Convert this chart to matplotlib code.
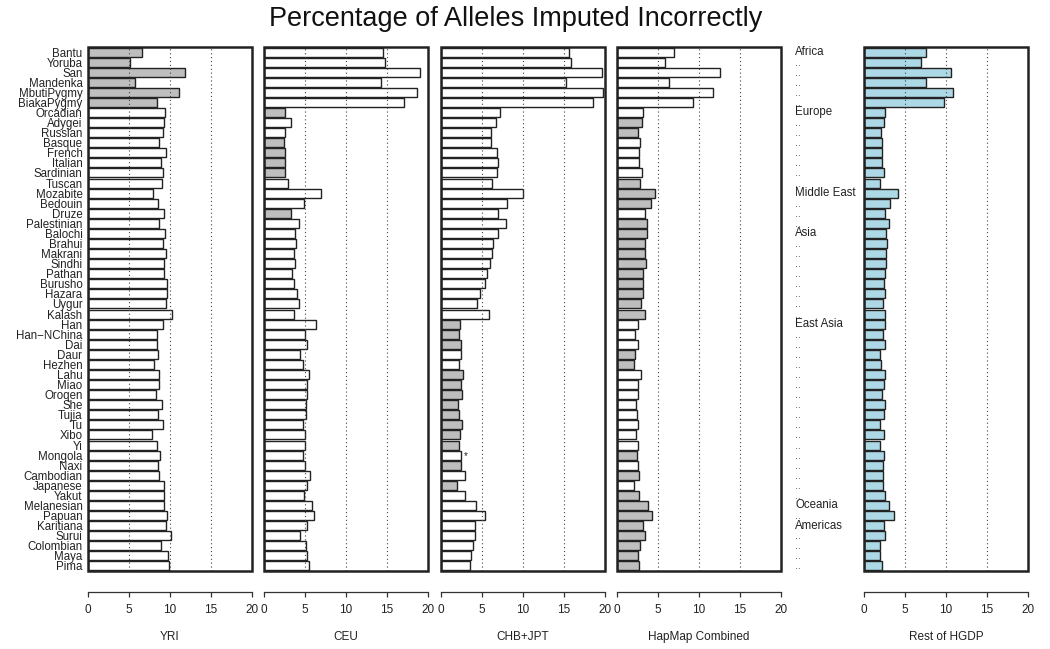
#!/usr/bin/env python3
"""
Percentage of alleles imputed incorrectly, per HGDP population,
for each reference panel (five side-by-side bar panels).
"""

import matplotlib

matplotlib.use("Agg")
import matplotlib.pyplot as plt
import numpy as np
from matplotlib.patches import Rectangle
from matplotlib.transforms import blended_transform_factory

plt.rcParams["font.family"] = ["Liberation Sans", "DejaVu Sans"]

# Populations, top to bottom
populations = [
    "Bantu", "Yoruba", "San", "Mandenka", "MbutiPygmy", "BiakaPygmy",
    "Orcadian", "Adygei", "Russian", "Basque", "French", "Italian",
    "Sardinian", "Tuscan", "Mozabite", "Bedouin", "Druze", "Palestinian",
    "Balochi", "Brahui", "Makrani", "Sindhi", "Pathan", "Burusho",
    "Hazara", "Uygur", "Kalash", "Han", "Han\u2212NChina", "Dai", "Daur",
    "Hezhen", "Lahu", "Miao", "Oroqen", "She", "Tujia", "Tu", "Xibo", "Yi",
    "Mongola", "Naxi", "Cambodian", "Japanese", "Yakut", "Melanesian",
    "Papuan", "Karitiana", "Surui", "Colombian", "Maya", "Pima",
]

# Region label and the number of populations in it
regions = ["Africa", "Europe", "Middle East", "Asia", "East Asia", "Oceania", "Americas"]
region_sizes = [6, 8, 4, 9, 18, 2, 5]

# Error rates (%) per panel
yri = [
    6.6, 5.1, 11.8, 5.7, 11.1, 8.4,
    9.4, 9.3, 9.2, 8.7, 9.5, 8.9, 9.1, 9.0,
    7.9, 8.5, 9.3, 8.6,
    9.4, 9.1, 9.5, 9.3, 9.3, 9.6, 9.6, 9.5, 10.2,
    9.2, 8.4, 8.4, 8.5, 8.1, 8.6, 8.7, 8.3, 9.0, 8.5, 9.2, 7.8, 8.4,
    8.8, 8.5, 8.7, 9.3, 9.3,
    9.3, 9.6,
    9.5, 10.1, 8.9, 9.7, 9.9,
]
ceu = [
    14.5, 14.8, 19.0, 14.3, 18.6, 17.1,
    2.6, 3.3, 2.5, 2.4, 2.5, 2.6, 2.6, 2.9,
    6.9, 4.9, 3.3, 4.3,
    3.8, 3.9, 3.6, 3.8, 3.4, 3.7, 4.0, 4.3, 3.6,
    6.3, 5.0, 5.2, 4.4, 4.8, 5.5, 5.3, 5.2, 5.1, 5.1, 4.8, 5.0, 5.0,
    4.8, 5.0, 5.6, 5.3, 4.9,
    5.9, 6.1,
    5.3, 4.4, 5.1, 5.2, 5.5,
]
chb_jpt = [
    15.6, 15.8, 19.6, 15.3, 19.7, 18.5,
    7.2, 6.7, 6.1, 6.1, 6.8, 7.0, 6.8, 6.2,
    10.0, 8.1, 7.0, 7.9,
    7.0, 6.3, 6.2, 6.0, 5.6, 5.4, 4.8, 4.4, 5.8,
    2.3, 2.2, 2.4, 2.4, 2.2, 2.7, 2.4, 2.5, 2.1, 2.2, 2.6, 2.3, 2.2,
    2.4, 2.4, 2.9, 1.9, 2.9,
    4.3, 5.4,
    4.2, 4.1, 3.9, 3.7, 3.5,
]
hapmap = [
    7.0, 5.8, 12.6, 6.4, 11.7, 9.3,
    3.2, 3.0, 2.5, 2.8, 2.7, 2.7, 3.1, 2.8,
    4.6, 4.2, 3.4, 3.7,
    3.6, 3.4, 3.4, 3.5, 3.2, 3.2, 3.2, 2.9, 3.4,
    2.5, 2.2, 2.6, 2.2, 2.1, 2.9, 2.5, 2.5, 2.3, 2.4, 2.6, 2.3, 2.5,
    2.4, 2.6, 2.7, 2.1, 2.7,
    3.8, 4.3,
    3.2, 3.4, 2.8, 2.6, 2.7,
]
rest_hgdp = [
    7.5, 7.0, 10.6, 7.6, 10.8, 9.7,
    2.5, 2.4, 2.1, 2.2, 2.2, 2.2, 2.4, 1.9,
    4.1, 3.2, 2.5, 3.1,
    2.7, 2.8, 2.7, 2.7, 2.5, 2.4, 2.6, 2.3, 2.5,
    2.5, 2.3, 2.5, 2.0, 2.1, 2.5, 2.4, 2.2, 2.6, 2.4, 2.0, 2.4, 1.9,
    2.4, 2.3, 2.3, 2.3, 2.5,
    3.1, 3.7,
    2.4, 2.5, 2.0, 1.9, 2.2,
]

# Populations whose bar is shaded grey in each panel
yri_grey = ["Bantu", "Yoruba", "San", "Mandenka", "MbutiPygmy", "BiakaPygmy"]
ceu_grey = ["Orcadian", "Basque", "French", "Italian", "Sardinian", "Druze"]
chb_jpt_grey = [
    "Han", "Han\u2212NChina", "Dai", "Lahu", "Miao", "Oroqen", "She", "Tujia",
    "Tu", "Xibo", "Yi", "Naxi", "Japanese",
]
hapmap_grey = [
    "Adygei", "Russian", "Tuscan", "Mozabite", "Bedouin", "Palestinian",
    "Balochi", "Brahui", "Makrani", "Sindhi", "Pathan", "Burusho", "Hazara",
    "Uygur", "Kalash", "Daur", "Hezhen", "Mongola", "Cambodian", "Yakut",
    "Melanesian", "Papuan", "Karitiana", "Surui", "Colombian", "Maya", "Pima",
]
chb_jpt_starred = ["Mongola"]

panel_titles = ["YRI", "CEU", "CHB+JPT", "HapMap Combined", "Rest of HGDP"]
x_ticks = [0, 5, 10, 15, 20]

GREY = "#BEBEBE"
LIGHTBLUE = "#ADD8E6"
EDGE = "#222222"


def draw_panel(ax, values, highlight, fill, title):
    y = np.arange(len(populations))
    colors = [fill if p in highlight else "white" for p in populations]
    ax.barh(y, values, height=0.9, color=colors, edgecolor=EDGE,
            linewidth=1.0, zorder=2)

    ax.set_xlim(0, 20)
    ax.set_ylim(len(populations) - 0.5, -0.5)

    # dotted reference lines on top of the bars
    for x in x_ticks[1:-1]:
        ax.axvline(x, color="#444444", linewidth=0.8,
                   linestyle=(0, (1, 2.5)), zorder=3)

    # closed box around the bars
    ax.add_patch(Rectangle((0, 0), 1, 1, transform=ax.transAxes, fill=False,
                           edgecolor=EDGE, linewidth=1.8, zorder=4,
                           clip_on=False))

    # R-style detached x axis
    for side in ["top", "right", "left"]:
        ax.spines[side].set_visible(False)
    ax.spines["bottom"].set_position(("outward", 15))
    ax.spines["bottom"].set_linewidth(0.9)
    ax.spines["bottom"].set_color("#333333")
    ax.set_xticks(x_ticks)
    ax.tick_params(axis="x", length=3.5, width=0.9, color="#333333",
                   labelsize=8.5, pad=5, labelcolor="#222222")
    ax.set_yticks([])
    ax.set_xlabel(title, fontsize=8.5, labelpad=11, color="#222222")


def main():
    fig = plt.figure(figsize=(10.5, 6.49), dpi=100)
    W, H = 1050.0, 649.0

    lefts = [88, 264, 441, 617, 864]
    width = 164
    top, bottom = 47, 571
    axes = []
    for left in lefts:
        axes.append(fig.add_axes([left / W, 1 - bottom / H, width / W,
                                  (bottom - top) / H]))

    series = [yri, ceu, chb_jpt, hapmap, rest_hgdp]
    greys = [yri_grey, ceu_grey, chb_jpt_grey, hapmap_grey, populations]
    fills = [GREY, GREY, GREY, GREY, LIGHTBLUE]
    for ax, vals, hl, fill, title in zip(axes, series, greys, fills, panel_titles):
        draw_panel(ax, vals, hl, fill, title)

    # population names on the first panel
    y = np.arange(len(populations))
    axes[0].set_yticks(y)
    axes[0].set_yticklabels(populations, fontsize=8.3, color="#222222")
    axes[0].tick_params(axis="y", length=0, pad=4)

    # asterisk next to flagged bars in CHB+JPT
    for name in chb_jpt_starred:
        i = populations.index(name)
        axes[2].text(chb_jpt[i] + 0.35, i + 0.1, "*", fontsize=7,
                     ha="left", va="center", color="#222222", zorder=5)

    # region labels between the HapMap and HGDP panels
    trans = blended_transform_factory(axes[4].transAxes, axes[4].transData)
    row = 0
    for name, n in zip(regions, region_sizes):
        for k in range(n):
            if k == 0:
                axes[4].text(-0.42, row, name, transform=trans, fontsize=8.3,
                             ha="left", va="center", color="#222222")
            else:
                axes[4].text(-0.42, row + 0.05, "..", transform=trans,
                             fontsize=7.5, ha="left", va="center",
                             color="#444444")
            row += 1

    fig.text(516 / W, 1 - 19 / H, "Percentage of Alleles Imputed Incorrectly",
             ha="center", va="center", fontsize=19.5, color="#111111")

    fig.savefig("out.png", dpi=100)


if __name__ == "__main__":
    main()
